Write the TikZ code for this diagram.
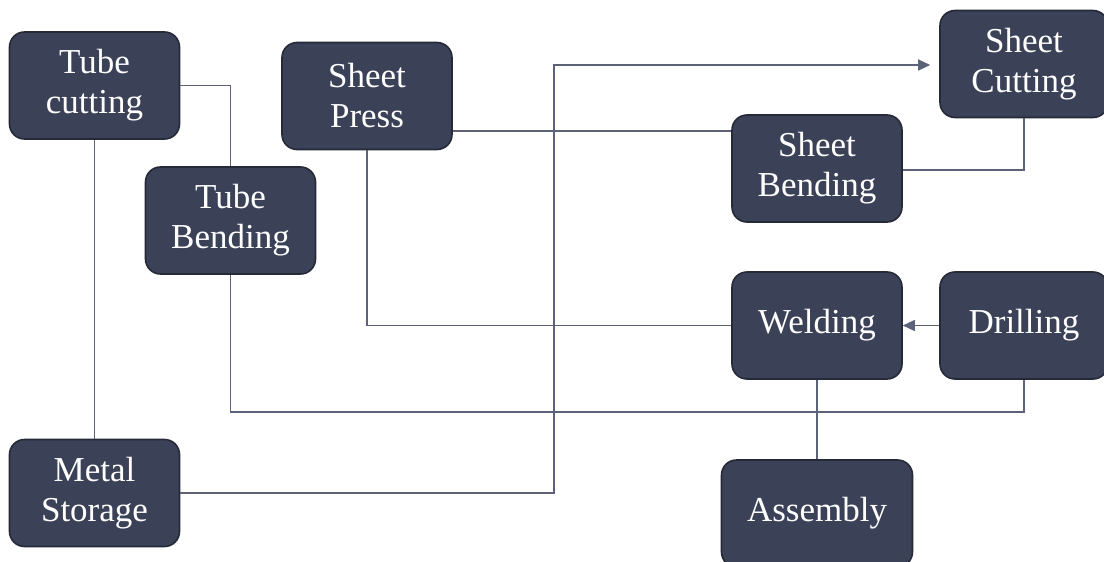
\documentclass[tikz,border=0pt]{standalone}
\usepackage{fontspec}
\setmainfont{Liberation Serif}
\usetikzlibrary{arrows.meta}
\definecolor{boxfill}{RGB}{59,65,87}
\definecolor{boxedge}{RGB}{38,42,56}
\definecolor{wire}{RGB}{92,98,120}
\tikzset{
  stage/.style={draw=boxedge, line width=1.6pt, fill=boxfill, rounded corners=15pt,
    text=white, align=center, minimum width=170pt, minimum height=107pt,
    inner sep=0pt, font=\fontsize{35}{40}\selectfont},
  link/.style={draw=wire, line width=1.3pt},
  tip/.style={-{Triangle[length=12pt,width=11pt]}}
}
\begin{document}
\begin{tikzpicture}[x=1pt,y=-1pt]
\useasboundingbox (0,0) rectangle (1104,562);
\fill[white] (0,0) rectangle (1104,562);

% process stages
\node[stage] (tc) at (94.5,85.5) {Tube\\cutting};
\node[stage] (sp) at (367,96) {Sheet\\Press};
\node[stage] (tb) at (230.5,220.5) {Tube\\Bending};
\node[stage, minimum width=168pt] (sc) at (1024,64) {Sheet\\Cutting};
\node[stage] (sb) at (817,168.5) {Sheet\\Bending};
\node[stage] (we) at (817,325.5) {Welding};
\node[stage, minimum width=168pt] (dr) at (1024,325.5) {Drilling};
\node[stage] (ms) at (94.5,493) {Metal\\Storage};
\node[stage, minimum width=191pt] (as) at (817,513.5) {Assembly};

% material flow
\draw[link] (tc.east) -| (tb.north);
\draw[link] (tc.south) -- (ms.north);
\draw[link] (tb.south) -- (tb.south |- 0,412) -| (dr.south);
\draw[link] (sp.east |- 0,131) -- (sb.west |- 0,131);
\draw[link] (sp.south) |- (we.west);
\draw[link, tip, shorten >=9pt] (ms.east) -| (554,65) -- (sc.west |- 0,65);
\draw[link] (sb.east |- 0,170) -| (sc.south);
\draw[link, tip] (dr.west) -- (we.east);
\draw[link] (we.south) -- (as.north);
\end{tikzpicture}
\end{document}
